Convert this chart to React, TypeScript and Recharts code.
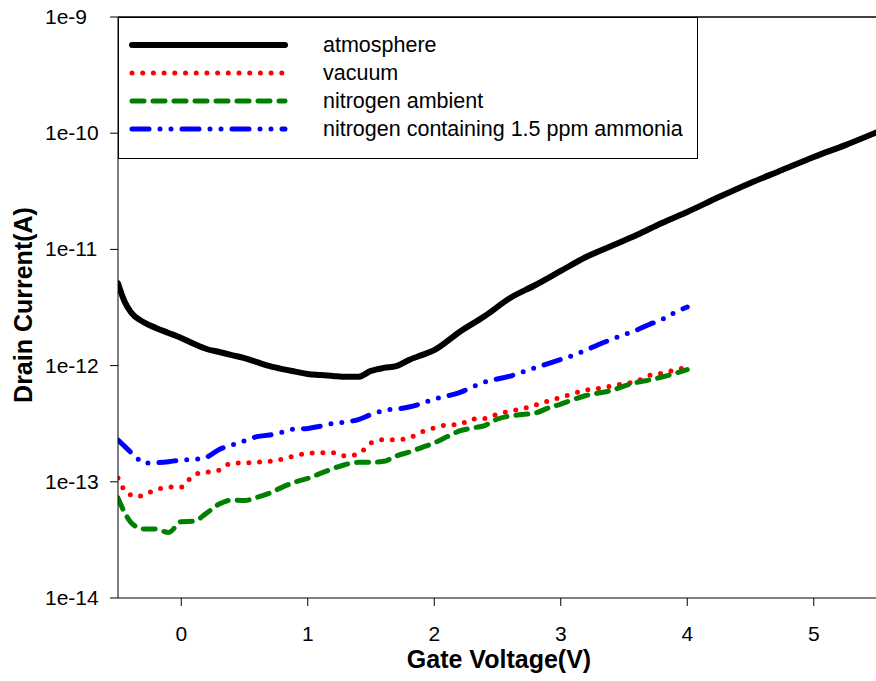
import React from 'react'
import { LineChart, Line, XAxis, YAxis, Legend, ReferenceLine } from 'recharts'

// gate voltage grid shared by the three lower curves
const lowV = [
  -0.5, -0.45, -0.4, -0.35, -0.3, -0.2, -0.1, 0, 0.1, 0.2, 0.3, 0.4, 0.5, 0.6, 0.7, 0.8, 0.9, 1.0,
  1.1, 1.2, 1.3, 1.4, 1.5, 1.6, 1.7, 1.8, 1.9, 2.0, 2.1, 2.2, 2.3, 2.4, 2.5, 2.6, 2.7, 2.8, 2.9, 3.0,
  3.1, 3.2, 3.3, 3.4, 3.5, 3.6, 3.7, 3.8, 3.9, 4.0,
]

const vacuumI = [
  1.08e-13, 8.5e-14, 7.7e-14, 7.4e-14, 7.7e-14, 8.5e-14, 9.0e-14, 9.0e-14, 1.15e-13, 1.21e-13,
  1.26e-13, 1.45e-13, 1.45e-13, 1.48e-13, 1.5e-13, 1.57e-13, 1.68e-13, 1.76e-13, 1.78e-13, 1.78e-13,
  1.67e-13, 1.73e-13, 2.16e-13, 2.3e-13, 2.3e-13, 2.38e-13, 2.68e-13, 2.91e-13, 3.08e-13, 3.12e-13,
  3.47e-13, 3.5e-13, 3.83e-13, 4.05e-13, 4.26e-13, 4.58e-13, 4.96e-13, 5.31e-13, 5.75e-13, 6.16e-13,
  6.35e-13, 6.67e-13, 7.0e-13, 7.33e-13, 8.22e-13, 8.6e-13, 9.16e-13, 9.72e-13,
]

const nitrogenI = [
  7.26e-14, 5.5e-14, 4.5e-14, 4.08e-14, 3.93e-14, 3.92e-14, 3.66e-14, 4.54e-14, 4.58e-14, 5.38e-14,
  6.44e-14, 6.97e-14, 6.9e-14, 7.36e-14, 8.0e-14, 9.0e-14, 9.95e-14, 1.07e-13, 1.18e-13, 1.3e-13,
  1.41e-13, 1.47e-13, 1.47e-13, 1.5e-13, 1.67e-13, 1.8e-13, 1.97e-13, 2.16e-13, 2.44e-13, 2.74e-13,
  2.9e-13, 3.05e-13, 3.47e-13, 3.68e-13, 3.8e-13, 3.91e-13, 4.31e-13, 4.67e-13, 5.11e-13, 5.53e-13,
  5.81e-13, 6.1e-13, 6.67e-13, 7.16e-13, 7.52e-13, 7.98e-13, 8.55e-13, 9.25e-13,
]

const ammoniaI = [
  2.29e-13, 2.03e-13, 1.8e-13, 1.6e-13, 1.45e-13, 1.46e-13, 1.49e-13, 1.54e-13, 1.56e-13, 1.63e-13,
  1.9e-13, 2.07e-13, 2.25e-13, 2.45e-13, 2.53e-13, 2.68e-13, 2.85e-13, 2.88e-13, 3.01e-13, 3.18e-13,
  3.27e-13, 3.43e-13, 3.79e-13, 4.11e-13, 4.23e-13, 4.4e-13, 4.72e-13, 5.16e-13, 5.47e-13, 5.86e-13,
  6.54e-13, 7.22e-13, 7.67e-13, 8.13e-13, 8.81e-13, 9.6e-13, 1.04e-12, 1.13e-12, 1.23e-12, 1.36e-12,
  1.52e-12, 1.68e-12, 1.85e-12, 2.02e-12, 2.26e-12, 2.49e-12, 2.86e-12, 3.19e-12,
]

const atmV = [
  -0.5, -0.45, -0.4, -0.3, -0.2, -0.1, 0, 0.1, 0.2, 0.3, 0.4, 0.5, 0.6, 0.7, 0.8, 0.9, 1.0, 1.1, 1.2,
  1.3, 1.4, 1.5, 1.6, 1.7, 1.8, 1.9, 2.0, 2.2, 2.4, 2.6, 2.8, 3.0, 3.2, 3.4, 3.6, 3.8, 4.0, 4.25, 4.5,
  4.75, 5.0, 5.25, 5.5,
]
const atmI = [
  5.1e-12, 3.6e-12, 2.9e-12, 2.37e-12, 2.11e-12, 1.91e-12, 1.73e-12, 1.54e-12, 1.39e-12, 1.31e-12,
  1.23e-12, 1.16e-12, 1.07e-12, 9.9e-13, 9.33e-13, 8.88e-13, 8.47e-13, 8.3e-13, 8.15e-13, 8.0e-13,
  8.0e-13, 9.0e-13, 9.55e-13, 9.9e-13, 1.12e-12, 1.23e-12, 1.36e-12, 1.95e-12, 2.67e-12, 3.82e-12,
  4.94e-12, 6.52e-12, 8.6e-12, 1.07e-11, 1.33e-11, 1.69e-11, 2.1e-11, 2.82e-11, 3.73e-11, 4.82e-11,
  6.24e-11, 7.9e-11, 1.02e-10,
]

const xTicks = [0, 1, 2, 3, 4, 5]
const yTicks = [1e-14, 1e-13, 1e-12, 1e-11, 1e-10, 1e-9]

const toRows = (v: number[], i: number[]) => v.map((x, k) => ({ v: x, i: i[k] }))

const series = [
  { name: 'atmosphere', data: toRows(atmV, atmI), color: '#000000', width: 6, dash: undefined },
  { name: 'vacuum', data: toRows(lowV, vacuumI), color: '#FF0000', width: 5, dash: '0 10.7' },
  { name: 'nitrogen ambient', data: toRows(lowV, nitrogenI), color: '#008000', width: 5, dash: '12 9' },
  {
    name: 'nitrogen containing 1.5 ppm ammonia',
    data: toRows(lowV, ammoniaI),
    color: '#0000FF',
    width: 5,
    dash: '17 11 0 11 0 11',
  },
]

const FONT = '"Liberation Sans", Arial, sans-serif'

const XTick = (props: any) => (
  <text x={props.x} y={props.y + 33} textAnchor="middle" fontSize={21} fontFamily={FONT} fill="#000">
    {props.payload.value}
  </text>
)

const YTick = (props: any) => (
  <text x={props.x - 63} y={props.y + 7} textAnchor="start" fontSize={21} fontFamily={FONT} fill="#000">
    {`1e${Math.round(Math.log10(props.payload.value))}`}
  </text>
)

const LegendBox = () => (
  <svg width={580} height={142} style={{ display: 'block' }}>
    <rect x={0.5} y={0.5} width={579} height={141} fill="#fff" stroke="#000" strokeWidth={1} />
    {series.map((s, k) => (
      <g key={s.name}>
        <line
          x1={14}
          x2={167}
          y1={28 + k * 28}
          y2={28 + k * 28}
          stroke={s.color}
          strokeWidth={s.width}
          strokeDasharray={s.dash}
          strokeLinecap="round"
        />
        <text x={205} y={35 + k * 28} fontSize={21.5} fontFamily={FONT} fill="#000">
          {s.name}
        </text>
      </g>
    ))}
  </svg>
)

export default function App() {
  return (
    <div
      style={{
        position: 'absolute',
        left: 0,
        top: 0,
        width: 876,
        height: 681,
        overflow: 'hidden',
        background: '#fff',
        fontFamily: FONT,
      }}
    >
      <LineChart width={890} height={681} margin={{ top: 17, right: 13, bottom: 23, left: 0 }}>
        <XAxis
          dataKey="v"
          type="number"
          domain={[-0.5, 5.5]}
          ticks={xTicks}
          allowDataOverflow
          tickSize={8}
          tickMargin={2}
          height={60}
          stroke="#000"
          tickLine={{ stroke: '#000' }}
          tick={<XTick />}
        />
        <YAxis
          type="number"
          scale="log"
          domain={[1e-14, 1e-9]}
          ticks={yTicks}
          allowDataOverflow
          width={118}
          tickSize={8}
          tickMargin={2}
          stroke="#000"
          tickLine={{ stroke: '#000' }}
          tick={<YTick />}
        />
        <ReferenceLine y={1e-9} stroke="#000" strokeWidth={1.5} />
        <ReferenceLine x={5.5} stroke="#000" strokeWidth={1} />
        {series.map((s) => (
          <Line
            key={s.name}
            name={s.name}
            data={s.data}
            dataKey="i"
            type="monotone"
            stroke={s.color}
            strokeWidth={s.width}
            strokeDasharray={s.dash}
            strokeLinecap="round"
            strokeLinejoin="round"
            dot={false}
            activeDot={false}
            isAnimationActive={false}
            legendType="line"
          />
        ))}
        <Legend
          layout="horizontal"
          verticalAlign="middle"
          align="center"
          content={<LegendBox />}
          wrapperStyle={{ position: 'absolute', left: 118, top: 17, width: 580, height: 142 }}
        />
      </LineChart>
      <div
        style={{
          position: 'absolute',
          left: 0,
          top: 0,
          width: 876,
          height: 681,
          pointerEvents: 'none',
        }}
      >
        <svg width={876} height={681}>
          <text
            x={499}
            y={668}
            textAnchor="middle"
            fontSize={25}
            fontWeight="bold"
            fontFamily={FONT}
            fill="#000"
          >
            Gate Voltage(V)
          </text>
          <text
            transform="translate(32,305) rotate(-90)"
            textAnchor="middle"
            fontSize={25}
            fontWeight="bold"
            fontFamily={FONT}
            fill="#000"
          >
            Drain Current(A)
          </text>
        </svg>
      </div>
    </div>
  )
}
